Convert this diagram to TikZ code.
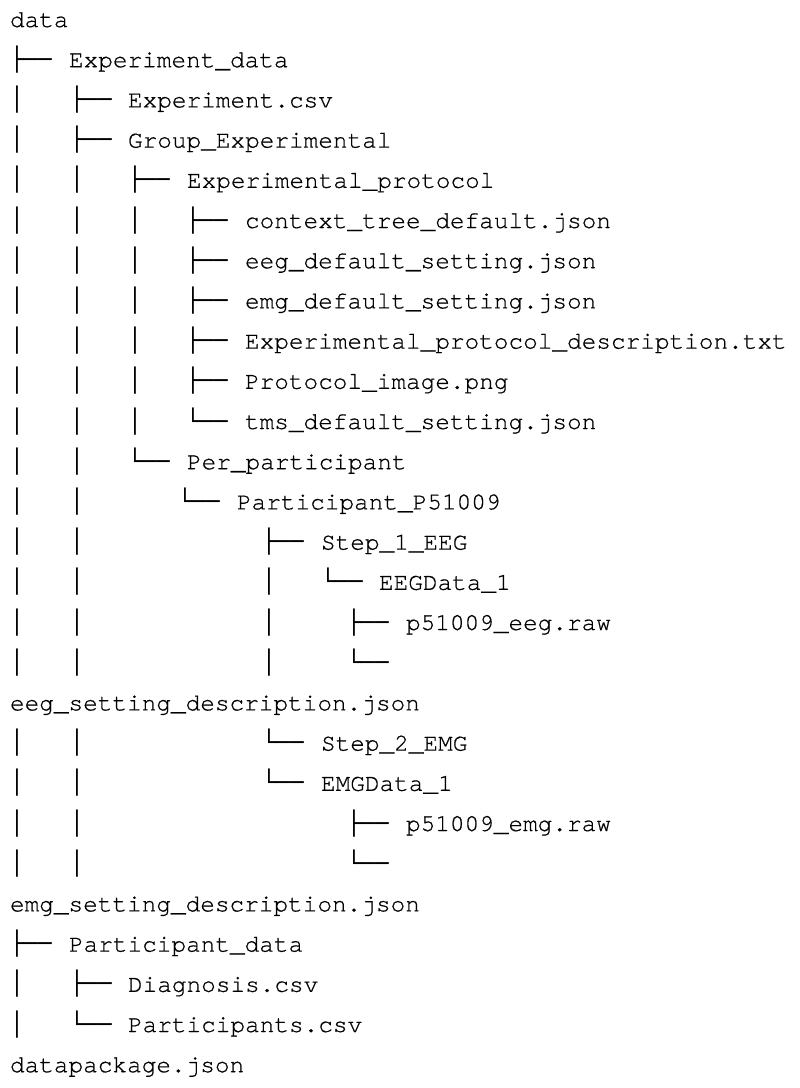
\documentclass[tikz,border=0pt]{standalone}
\usepackage{fontspec}
\setmonofont[FakeBold=0.6]{TeX Gyre Cursor}
\newfontfamily\boxfont{DejaVu Sans Mono}
\begin{document}
\begin{tikzpicture}[x=1pt,y=1pt,
  txt/.style={anchor=base west,inner sep=0pt,outer sep=0pt,text=black,
    font=\ttfamily\fontsize{24.4}{29}\selectfont},
  brc/.style={anchor=base west,inner sep=0pt,outer sep=0pt,text=black,
    font=\boxfont\fontsize{23}{28}\selectfont}]
\useasboundingbox (0,0) rectangle (800,-1088);
\newcommand\Tl[4]{\node[txt] (#1) at (#2-1,{-(27+(#3-1)*40.2)}) {#4};}
\newcommand\Bl[4]{\node[brc] (#1) at (#2-6.9,{-(27+(#3-1)*40.2)}) {#4};}
% vertical continuation bars
\foreach \n in {3,...,17,19,20,21,22,25,26} {\Bl{vA\n}{17}{\n}{│}}
\foreach \n in {5,...,17,19,20,21,22} {\Bl{vB\n}{77}{\n}{│}}
\foreach \n in {6,...,11} {\Bl{vC\n}{135}{\n}{│}}
\foreach \n in {15,16,17} {\Bl{vD\n}{269}{\n}{│}}
% branches
\Bl{b2}{17}{2}{├──}
\Bl{b3}{77}{3}{├──}
\Bl{b4}{77}{4}{├──}
\Bl{b5}{135}{5}{├──}
\foreach \n in {6,...,10} {\Bl{b\n}{193}{\n}{├──}}
\Bl{b11}{193}{11}{└──}
\Bl{b12}{135}{12}{└──}
\Bl{b13}{185}{13}{└──}
\Bl{b14}{269}{14}{├──}
\Bl{b15}{328}{15}{└──}
\Bl{b16}{354}{16}{├──}
\Bl{b17}{354}{17}{└──}
\Bl{b19}{269}{19}{└──}
\Bl{b20}{269}{20}{└──}
\Bl{b21}{354}{21}{├──}
\Bl{b22}{354}{22}{└──}
\Bl{b24}{17}{24}{├──}
\Bl{b25}{77}{25}{├──}
\Bl{b26}{77}{26}{└──}
% texts
\Tl{t1}{11}{1}{data}
\Tl{t2}{70}{2}{Experiment\_data}
\Tl{t3}{129}{3}{Experiment.csv}
\Tl{t4}{129}{4}{Group\_Experimental}
\Tl{t5}{188}{5}{Experimental\_protocol}
\Tl{t6}{246}{6}{context\_tree\_default.json}
\Tl{t7}{246}{7}{eeg\_default\_setting.json}
\Tl{t8}{246}{8}{emg\_default\_setting.json}
\Tl{t9}{246}{9}{Experimental\_protocol\_description.txt}
\Tl{t10}{246}{10}{Protocol\_image.png}
\Tl{t11}{246}{11}{tms\_default\_setting.json}
\Tl{t12}{188}{12}{Per\_participant}
\Tl{t13}{238}{13}{Participant\_P51009}
\Tl{t14}{322}{14}{Step\_1\_EEG}
\Tl{t15}{380}{15}{EEGData\_1}
\Tl{t16}{407}{16}{p51009\_eeg.raw}
\Tl{t18}{11}{18}{eeg\_setting\_description.json}
\Tl{t19}{322}{19}{Step\_2\_EMG}
\Tl{t20}{322}{20}{EMGData\_1}
\Tl{t21}{407}{21}{p51009\_emg.raw}
\Tl{t23}{11}{23}{emg\_setting\_description.json}
\Tl{t24}{70}{24}{Participant\_data}
\Tl{t25}{129}{25}{Diagnosis.csv}
\Tl{t26}{129}{26}{Participants.csv}
\Tl{t27}{11}{27}{datapackage.json}
\end{tikzpicture}
\end{document}
